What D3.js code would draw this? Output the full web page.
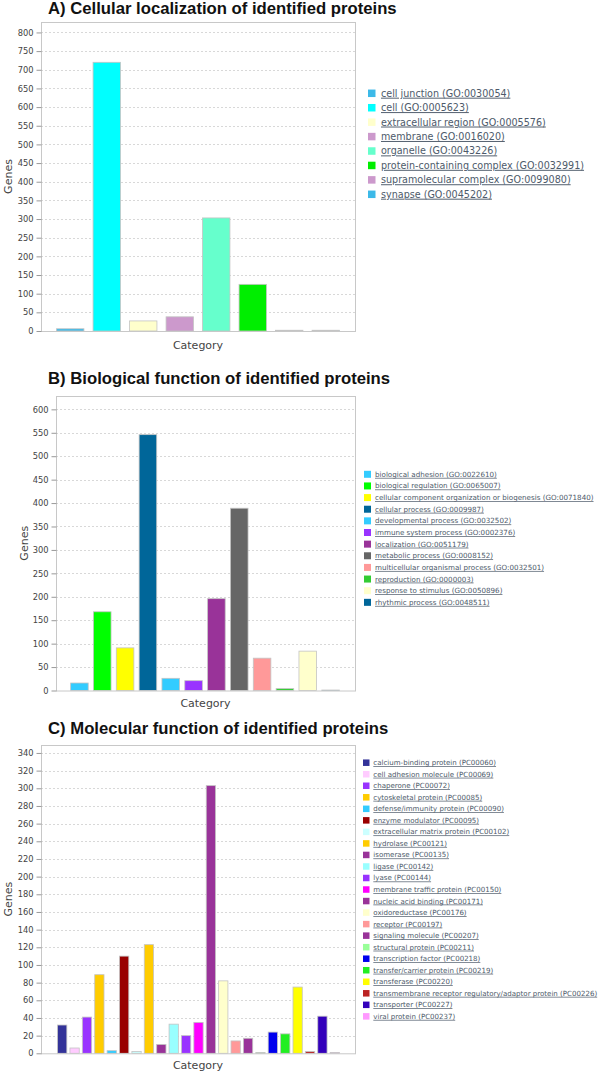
<!DOCTYPE html>
<html>
<head>
<meta charset="utf-8">
<script src="https://cdn.jsdelivr.net/npm/d3@7/dist/d3.min.js"></script>
<style>
  html, body { margin: 0; padding: 0; background: #fff; }
  svg { display: block; }
  .title { font-family: "Liberation Sans", Arial, sans-serif; font-weight: bold; fill: #111; }
  .tick-lbl { font-family: "DejaVu Sans", sans-serif; font-size: 8px; fill: #444; }
  .ax-lbl { font-family: "DejaVu Sans", sans-serif; font-size: 11px; fill: #444; }
  .leg { font-family: "DejaVu Sans", sans-serif; fill: #4d5a6a; text-decoration: underline; }
</style>
</head>
<body>
<svg id="chart" width="601" height="1075"></svg>
<script>
/* ── Data ──────────────────────────────────────────────────────────────── */
const locCategories = ['cell junction (GO:0030054)', 'cell (GO:0005623)', 'extracellular region (GO:0005576)',
  'membrane (GO:0016020)', 'organelle (GO:0043226)', 'protein-containing complex (GO:0032991)',
  'supramolecular complex (GO:0099080)', 'synapse (GO:0045202)'];
const locValues = [6, 720, 27, 38, 303, 125, 2, 2];
const locColors = ['#3cb9e8', '#00ffff', '#ffffcc', '#cc99cc', '#66ffcc', '#00ee00', '#cc99cc', '#3cb9e8'];

const bioCategories = ['biological adhesion (GO:0022610)', 'biological regulation (GO:0065007)',
  'cellular component organization or biogenesis (GO:0071840)', 'cellular process (GO:0009987)',
  'developmental process (GO:0032502)', 'immune system process (GO:0002376)', 'localization (GO:0051179)',
  'metabolic process (GO:0008152)', 'multicellular organismal process (GO:0032501)',
  'reproduction (GO:0000003)', 'response to stimulus (GO:0050896)', 'rhythmic process (GO:0048511)'];
const bioValues = [16, 168, 91, 546, 26, 21, 196, 389, 69, 4, 84, 1];
const bioColors = ['#33ccff', '#00ff00', '#ffff00', '#006699', '#33ccff', '#9933ff', '#993399',
  '#666666', '#ff9999', '#33cc33', '#ffffcc', '#006699'];

const molCategories = ['calcium-binding protein (PC00060)', 'cell adhesion molecule (PC00069)',
  'chaperone (PC00072)', 'cytoskeletal protein (PC00085)', 'defense/immunity protein (PC00090)',
  'enzyme modulator (PC00095)', 'extracellular matrix protein (PC00102)', 'hydrolase (PC00121)',
  'isomerase (PC00135)', 'ligase (PC00142)', 'lyase (PC00144)', 'membrane traffic protein (PC00150)',
  'nucleic acid binding (PC00171)', 'oxidoreductase (PC00176)', 'receptor (PC00197)',
  'signaling molecule (PC00207)', 'structural protein (PC00211)', 'transcription factor (PC00218)',
  'transfer/carrier protein (PC00219)', 'transferase (PC00220)',
  'transmembrane receptor regulatory/adaptor protein (PC00226)', 'transporter (PC00227)',
  'viral protein (PC00237)'];
const molValues = [32, 6, 41, 89, 3, 110, 2, 123, 10, 33, 20, 35, 303, 82, 14, 17, 1, 24, 22, 75, 2, 42, 1];
const molColors = ['#333399', '#ffccff', '#9933ff', '#ffcc00', '#33ccff', '#990000', '#ccffff', '#ffcc00',
  '#993399', '#99ffff', '#9933ff', '#ff00ff', '#993399', '#ffffcc', '#ff9999', '#993399', '#99ff99',
  '#0000ee', '#22ee22', '#ffff00', '#bb2222', '#3300bb', '#ff99ff'];

const locTicks = d3.range(0, 801, 50);
const bioTicks = d3.range(0, 601, 50);
const molTicks = d3.range(0, 341, 20);

/* ── Panels ────────────────────────────────────────────────────────────── */
const PANELS = [
  { title: 'A) Cellular localization of identified proteins', titleY: 14,
    cats: locCategories, vals: locValues, cols: locColors, ticks: locTicks, yMax: 828,
    frame: { l: 41, r: 355, t: 22, b: 331 }, xr: [52, 344], pad: 0.25, genesX: 8, catY: 349,
    leg: { sx: 368, sz: 7.5, tx: 381, y0: 93.3, dy: 14.43, fs: 9.6 } },
  { title: 'B) Biological function of identified proteins', titleY: 384,
    cats: bioCategories, vals: bioValues, cols: bioColors, ticks: bioTicks, yMax: 628.5,
    frame: { l: 56, r: 355, t: 396, b: 690.5 }, xr: [68, 342], pad: 0.23, genesX: 24, catY: 707,
    leg: { sx: 364, sz: 7, tx: 375, y0: 474.3, dy: 11.64, fs: 7.15 } },
  { title: 'C) Molecular function of identified proteins', titleY: 734,
    cats: molCategories, vals: molValues, cols: molColors, ticks: molTicks, yMax: 349,
    frame: { l: 41, r: 355, t: 745, b: 1053.3 }, xr: [56, 341], pad: 0.25, genesX: 8, catY: 1069,
    leg: { sx: 363, sz: 6.5, tx: 373.3, y0: 762.7, dy: 11.53, fs: 7.05 } },
];

const svg = d3.select('#chart');

function drawPanel(p) {
  const g = svg.append('g');
  const F = p.frame;
  const x = d3.scaleBand().domain(p.cats).range(p.xr).paddingInner(p.pad).paddingOuter(p.pad / 2);
  const y = d3.scaleLinear().domain([0, p.yMax]).range([F.b, F.t]);

  // title
  g.append('text').attr('class', 'title').attr('x', 48).attr('y', p.titleY)
    .style('font-size', '16.7px').text(p.title);

  // grid
  g.selectAll('.grid').data(p.ticks.filter(t => t > 0)).join('line')
    .attr('x1', F.l).attr('x2', F.r)
    .attr('y1', d => Math.round(y(d)) + 0.5).attr('y2', d => Math.round(y(d)) + 0.5)
    .attr('stroke', '#d8d8d8').attr('stroke-dasharray', '2,2');

  // bars
  g.selectAll('.bar').data(p.vals).join('rect')
    .attr('x', (d, i) => x(p.cats[i]))
    .attr('width', x.bandwidth())
    .attr('y', d => y(d))
    .attr('height', d => y(0) - y(d))
    .attr('fill', (d, i) => p.cols[i])
    .attr('stroke', '#c4c4c4').attr('stroke-width', 0.8);

  // frame
  g.append('rect').attr('x', F.l + 0.5).attr('y', F.t + 0.5)
    .attr('width', F.r - F.l).attr('height', F.b - F.t)
    .attr('fill', 'none').attr('stroke', '#c8c8c8');

  // y axis
  const ax = g.append('g').attr('transform', `translate(${F.l + 0.5},0)`)
    .call(d3.axisLeft(y).tickValues(p.ticks).tickSize(5).tickPadding(3).tickFormat(d3.format('d')));
  ax.select('.domain').remove();
  ax.selectAll('.tick line').attr('stroke', '#999');
  ax.selectAll('.tick text').attr('class', 'tick-lbl').attr('fill', null)
    .style('font-family', '"DejaVu Sans", sans-serif').style('font-size', '8.3px');
  ax.attr('font-size', null).attr('font-family', null);

  // axis labels
  g.append('text').attr('class', 'ax-lbl').attr('text-anchor', 'middle')
    .attr('transform', `translate(${p.genesX + 4},${(F.t + F.b) / 2}) rotate(-90)`).text('Genes');
  g.append('text').attr('class', 'ax-lbl').attr('text-anchor', 'middle')
    .attr('x', (F.l + F.r) / 2).attr('y', p.catY).text('Category');

  // legend
  const L = p.leg;
  const rows = g.selectAll('.leg-row').data(p.cats).join('g')
    .attr('transform', (d, i) => `translate(0,${L.y0 + i * L.dy})`);
  rows.append('rect').attr('x', L.sx).attr('y', -L.sz / 2).attr('width', L.sz).attr('height', L.sz)
    .attr('fill', (d, i) => p.cols[i]);
  rows.append('text').attr('class', 'leg').attr('x', L.tx).attr('dy', '0.35em')
    .style('font-size', L.fs + 'px').text(d => d);
}

PANELS.forEach(drawPanel);
</script>
</body>
</html>
